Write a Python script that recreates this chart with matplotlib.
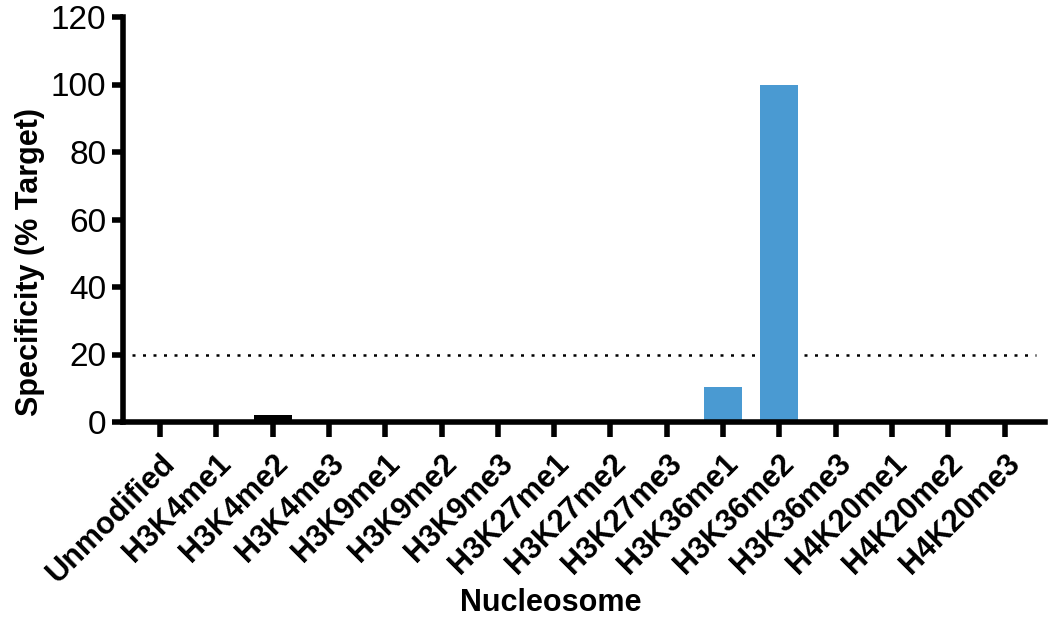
import matplotlib
matplotlib.use("Agg")
import matplotlib.pyplot as plt

plt.rcParams["font.family"] = ["Liberation Sans", "DejaVu Sans"]

nucleosomes = [
    "Unmodified", "H3K4me1", "H3K4me2", "H3K4me3", "H3K9me1", "H3K9me2",
    "H3K9me3", "H3K27me1", "H3K27me2", "H3K27me3", "H3K36me1", "H3K36me2",
    "H3K36me3", "H4K20me1", "H4K20me2", "H4K20me3",
]
specificity = [0, 0, 2, 0, 0, 0, 0, 0, 0, 0, 10.3, 100, 0, 0, 0, 0]
bar_colors = ["#4a9ad2"] * len(nucleosomes)
bar_colors[2] = "black"
threshold = 20
y_ticks = [0, 20, 40, 60, 80, 100, 120]

fig = plt.figure(figsize=(10.54, 6.25), dpi=100)
ax = fig.add_axes([0.1167, 0.3248, 0.8748, 0.648])

x = list(range(len(nucleosomes)))
ax.bar(x, specificity, width=0.67, color=bar_colors, zorder=2)
ax.axhline(threshold, xmin=0.01, xmax=0.99, color="black", linestyle=(0, (1.2, 3)), linewidth=1.8, zorder=1)

ax.set_xlim(-0.66, 15.72)
ax.set_ylim(0, 120)
ax.set_yticks(y_ticks)
ax.set_xticks(x)
ax.set_xticklabels(nucleosomes, rotation=45, ha="right", rotation_mode="anchor", fontsize=22, fontweight="bold")
ax.tick_params(axis="y", labelsize=24, width=4, length=8, pad=4)
ax.tick_params(axis="x", width=4, length=11, pad=8)

for side in ("top", "right"):
    ax.spines[side].set_visible(False)
for side in ("left", "bottom"):
    ax.spines[side].set_linewidth(4)

ax.set_ylabel("Specificity (% Target)", fontsize=22, fontweight="bold", va="center")
ax.set_xlabel("Nucleosome", fontsize=22, fontweight="bold", va="center")
ax.yaxis.set_label_coords(-0.101, 0.395)
ax.xaxis.set_label_coords(0.464, -0.447)

fig.savefig("out.png", dpi=100)
